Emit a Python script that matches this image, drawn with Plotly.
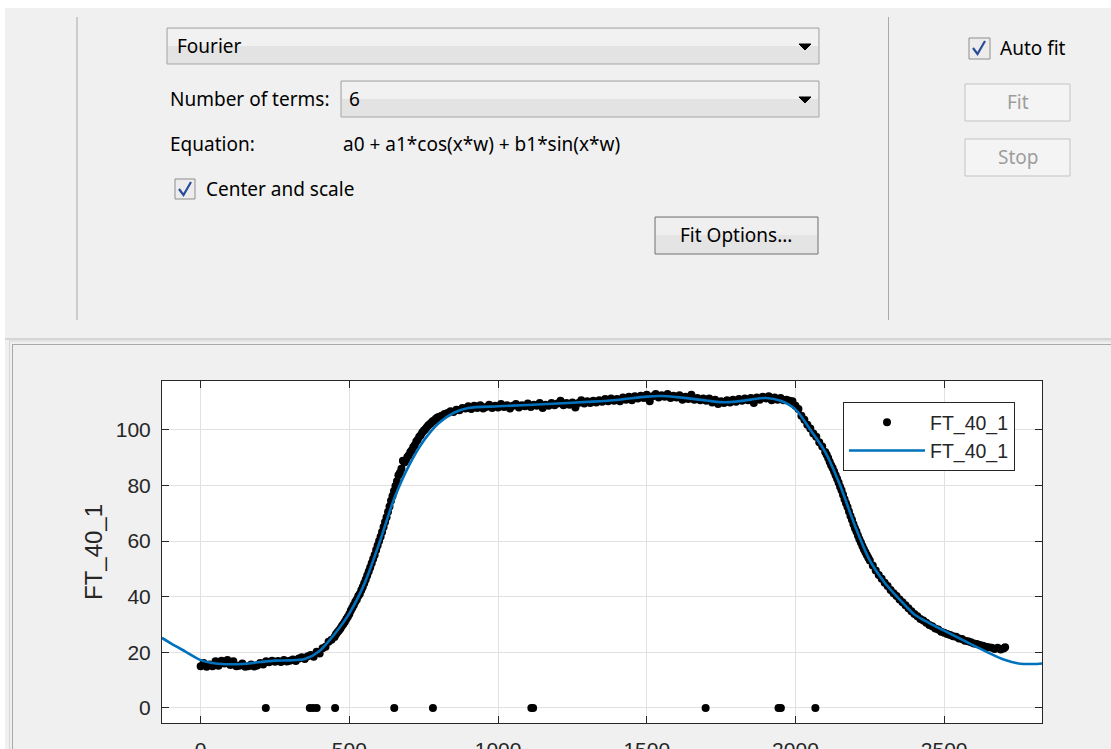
import plotly.graph_objects as go

# ---------------- data ----------------
start_x = [0, 10, 20, 30, 40, 50, 60, 70, 80, 90, 100, 110, 120, 130, 140, 150, 160, 170, 180, 190,
           200, 210, 220, 230, 240, 250, 260, 270, 280, 290, 300, 310, 320, 330, 340, 350, 360, 370,
           380, 390, 400, 410, 420, 430, 440]
start_y = [15.0, 16.2, 14.8, 15.6, 15.0, 16.8, 15.2, 17.0, 16.0, 17.2, 15.4, 16.8, 15.0, 15.2, 16.0,
           14.8, 15.0, 15.6, 14.9, 15.3, 16.2, 15.6, 16.8, 16.4, 17.0, 16.6, 16.9, 16.5, 17.2, 16.7,
           17.0, 17.4, 16.9, 17.8, 18.2, 17.6, 18.6, 19.0, 18.4, 20.2, 19.6, 21.5, 22.0, 23.8, 24.5]

rise_x = [450, 455, 460, 465, 470, 475, 480, 485, 490, 495, 500, 505, 510, 515, 520, 525, 530, 535,
          540, 545, 550, 555, 560, 565, 570, 575, 580, 585, 590, 595, 600, 605, 610, 615, 620, 625,
          630, 635, 640, 645, 650, 655, 660, 665, 670, 675, 680, 685, 690, 695, 700, 705, 710, 715,
          720, 725, 730, 735, 740, 745, 750, 755, 760, 765, 770, 775, 780, 785, 790, 795, 800, 810,
          820, 830, 840, 850, 860, 870, 880, 890]
rise_y = [25.5, 26.5, 27.2, 27.8, 28.6, 29.5, 30.2, 31.0, 32.0, 32.8,
          33.8, 35.0, 36.0, 37.0, 38.2, 39.0, 40.2, 41.0, 42.3, 43.5,
          44.8, 46.2, 47.6, 49.0, 50.5, 52.0, 53.5, 55.0, 56.8, 58.4,
          60.0, 61.5, 63.2, 65.0, 66.8, 68.5, 70.5, 72.4, 74.5, 76.2,
          78.0, 79.8, 81.5, 83.6, 84.5, 86.0, 88.8, 88.2, 89.0, 90.2,
          90.8, 92.0, 92.6, 93.8, 94.5, 95.8, 96.4, 97.5, 98.0, 99.0,
          99.6, 100.2, 100.8, 101.5, 102.0, 102.4, 103.0, 103.2, 103.8, 104.3,
          104.6, 105.0, 105.6, 106.0, 106.6, 106.4, 107.2, 107.0, 107.8, 107.6]

plateau_x = [900, 910, 920, 930, 940, 950, 960, 970, 980, 990,
             1000, 1010, 1020, 1030, 1040, 1050, 1060, 1070, 1080, 1090,
             1100, 1110, 1120, 1130, 1140, 1150, 1160, 1170, 1180, 1190,
             1200, 1210, 1220, 1230, 1240, 1250, 1260, 1270, 1280, 1290,
             1300, 1310, 1320, 1330, 1340, 1350, 1360, 1370, 1380, 1390,
             1400, 1410, 1420, 1430, 1440, 1450, 1460, 1470, 1480, 1490,
             1500, 1510, 1520, 1530, 1540, 1550, 1560, 1570, 1580, 1590,
             1600, 1610, 1620, 1630, 1640, 1650, 1660, 1670, 1680, 1690,
             1700, 1710, 1720, 1730, 1740, 1750, 1760, 1770, 1780, 1790,
             1800, 1810, 1820, 1830, 1840, 1850, 1860, 1870, 1880, 1890,
             1900, 1910, 1920, 1930, 1940, 1950, 1960, 1970, 1980]
plateau_y = [108.4, 107.4, 108.6, 107.8, 108.8, 107.6, 108.2, 109.0, 107.8, 108.6,
             108.0, 109.2, 108.2, 108.8, 107.6, 108.6, 109.2, 108.0, 108.8, 108.4,
             109.4, 108.2, 109.0, 108.6, 109.6, 107.8, 109.0, 108.6, 109.6, 108.8,
             109.4, 110.4, 108.8, 109.6, 109.0, 109.8, 108.0, 109.6, 110.6, 109.4,
             110.2, 109.6, 110.4, 109.8, 110.6, 110.0, 111.0, 110.2, 111.2, 110.4,
             111.0, 110.2, 111.6, 110.8, 111.8, 110.6, 112.0, 111.2, 112.2, 111.4,
             112.6, 110.2, 112.0, 112.8, 111.6, 112.4, 111.8, 112.8, 111.4, 112.2,
             111.6, 112.4, 110.8, 111.8, 111.0, 112.6, 110.8, 111.4, 110.6, 111.2,
             110.4, 111.2, 109.8, 110.8, 109.2, 110.2, 109.6, 110.6, 109.8, 110.8,
             110.0, 111.0, 110.4, 111.2, 110.6, 111.4, 109.6, 111.6, 110.8, 111.8,
             111.2, 112.0, 110.6, 111.6, 110.8, 111.4, 110.6, 110.8, 110.4]

fall_x = [1990, 2000, 2010, 2020, 2030, 2040, 2050, 2060, 2070, 2080, 2090, 2100,
          2105, 2110, 2115, 2120, 2125, 2130, 2135, 2140, 2145, 2150,
          2155, 2160, 2165, 2170, 2175, 2180, 2185, 2190, 2195, 2200,
          2205, 2210, 2215, 2220, 2225, 2230, 2235, 2240, 2245, 2250,
          2260, 2270, 2280, 2290, 2300, 2310, 2320, 2330, 2340, 2350,
          2360, 2370, 2380, 2390, 2400, 2410, 2420, 2430, 2440, 2450,
          2460, 2470, 2480, 2490, 2500, 2510, 2520, 2530, 2540, 2550,
          2560, 2570, 2580, 2590, 2600, 2610, 2620, 2630, 2640, 2650,
          2660, 2670, 2680, 2690, 2700, 2705]
fall_y = [110.2, 108.6, 107.4, 105.0, 103.6, 101.8, 100.4, 98.6, 97.5, 95.5, 94.0, 92.0,
          91.0, 89.8, 88.5, 87.2, 86.2, 85.0, 83.6, 82.4, 81.0, 79.5,
          78.2, 76.6, 75.0, 73.6, 72.2, 70.6, 69.0, 67.6, 66.0, 64.6,
          63.4, 62.0, 60.6, 59.5, 58.2, 57.0, 56.0, 55.0, 54.0, 53.0,
          51.2, 49.4, 47.8, 46.4, 45.0, 43.8, 42.4, 41.2, 40.2, 39.0,
          38.0, 36.9, 35.8, 34.8, 33.8, 33.0, 32.0, 31.4, 30.6, 29.8,
          29.4, 28.6, 28.2, 27.4, 27.0, 26.6, 26.2, 25.8, 25.6, 25.0,
          24.8, 24.2, 24.0, 23.6, 23.2, 23.0, 22.6, 22.4, 22.0, 21.8,
          21.6, 21.2, 21.6, 21.0, 21.4, 21.8]

zero_x = [219, 367, 378, 390, 452, 651, 781, 1112, 1118, 1698, 1943, 1951, 2067]
zero_y = [0, 0, 0, 0, 0, 0, 0, 0, 0, 0, 0, 0, 0]

fit_x = [-130, -100, -50, 0, 50, 100, 150, 200, 250, 300, 350, 400, 450, 500, 550, 600, 650, 700,
         750, 800, 850, 900, 1000, 1100, 1200, 1300, 1400, 1500, 1550, 1600, 1700, 1750, 1800,
         1850, 1900, 1950, 2000, 2050, 2100, 2150, 2200, 2250, 2300, 2350, 2400, 2450, 2500,
         2550, 2600, 2650, 2700, 2750, 2800, 2830]
fit_y = [25.2, 23.2, 20.2, 17.2, 16.0, 15.7, 15.9, 16.5, 17.0, 17.1, 17.6, 20.5, 26.5, 34.0, 44.5,
         59.0, 75.0, 87.0, 96.0, 102.3, 106.0, 107.8, 108.4, 108.9, 109.4, 110.0, 110.7, 111.9,
         112.1, 111.7, 110.5, 109.9, 110.1, 110.8, 111.4, 110.4, 107.3, 100.0, 92.0, 80.0, 65.5,
         53.0, 45.0, 39.0, 33.6, 30.5, 27.8, 25.1, 22.4, 19.8, 17.4, 16.0, 15.8, 16.0]

x_ticks = [0, 500, 1000, 1500, 2000, 2500]
y_ticks = [0, 20, 40, 60, 80, 100]
series_name = "FT_40_1"

# ---------------- layout geometry (pixels) ----------------
W_FIG, H_FIG = 1111, 749
L, R, T, B = 162, 1042, 381, 723
PW, PH = R - L, B - T


def px(x):
    return (x - L) / PW


def py(y):
    return (B - y) / PH


data_x = start_x + rise_x + plateau_x + fall_x + zero_x
data_y = start_y + rise_y + plateau_y + fall_y + zero_y

fig = go.Figure()
fig.add_trace(go.Scatter(
    x=data_x, y=data_y, mode="markers", name=series_name,
    marker=dict(color="black", size=8, line=dict(width=0)),
))
fig.add_trace(go.Scatter(
    x=fit_x, y=fit_y, mode="lines", name=series_name,
    line=dict(color="#0072BD", width=2.6, shape="spline", smoothing=0.8),
))

axis_font = dict(family="Liberation Sans, Arial, sans-serif", size=21, color="#262626")

fig.update_xaxes(
    range=[-130, 2829], tickvals=x_ticks, ticks="inside", ticklen=7, tickcolor="#262626",
    showline=True, linecolor="#262626", linewidth=1, mirror="ticks",
    showgrid=True, gridcolor="#e1e1e1", gridwidth=1, zeroline=False,
    tickfont=axis_font, automargin=False, ticklabelstandoff=8,
)
fig.update_yaxes(
    range=[-5.4, 117.5], tickvals=y_ticks, ticks="inside", ticklen=7, tickcolor="#262626",
    showline=True, linecolor="#262626", linewidth=1, mirror="ticks",
    showgrid=True, gridcolor="#e1e1e1", gridwidth=1, zeroline=False,
    tickfont=axis_font, automargin=False, ticklabelstandoff=6,
)

shapes = []
annos = []
GUI_FONT = "Noto Sans, Open Sans, sans-serif"


def rect(x0, y0, x1, y1, fill, line=None, lw=1):
    shapes.append(dict(
        type="rect", xref="paper", yref="paper",
        x0=px(x0), x1=px(x1), y0=py(y1), y1=py(y0),
        fillcolor=fill, line=dict(color=line if line else fill, width=lw if line else 0),
        layer="below"))


def hline(x0, x1, y, color, lw=1):
    shapes.append(dict(type="line", xref="paper", yref="paper",
                       x0=px(x0), x1=px(x1), y0=py(y), y1=py(y),
                       line=dict(color=color, width=lw)))


def vline(x, y0, y1, color, lw=1):
    shapes.append(dict(type="line", xref="paper", yref="paper",
                       x0=px(x), x1=px(x), y0=py(y0), y1=py(y1),
                       line=dict(color=color, width=lw)))


def path(points, fill=None, color="black", lw=1, closed=False):
    d = "M " + " L ".join(f"{px(a):.5f},{py(b):.5f}" for a, b in points)
    if closed:
        d += " Z"
    shapes.append(dict(type="path", xref="paper", yref="paper", path=d,
                       fillcolor=fill if fill else "rgba(0,0,0,0)",
                       line=dict(color=color, width=lw)))


def text(x, y, s, size=19, color="black", anchor="left", family=GUI_FONT):
    annos.append(dict(x=px(x), y=py(y), xref="paper", yref="paper", text=s,
                      showarrow=False, xanchor=anchor, yanchor="middle",
                      font=dict(family=family, size=size, color=color)))


# window edges
rect(0, 0, 1111, 8, "white")
rect(0, 0, 5, 749, "white")

# separators of the top panel
vline(77, 17, 320, "#a9a9a9")
vline(888.5, 17, 320, "#a9a9a9")
hline(5, 1111, 339, "#b9b9b9")
hline(9, 1111, 341, "#d7d7d7")
vline(9.5, 341, 749, "#d7d7d7")
hline(12, 1111, 344.5, "#a9a9a9")
vline(12.5, 344.5, 749, "#a9a9a9")

# dropdown 1
rect(167, 28, 819, 64, "#e3e3e3", "#a5a5a5")
rect(168, 29, 818, 46, "#f1f1f1")
path([(799, 44), (811, 44), (805, 50)], fill="black", color="black", lw=1, closed=True)
text(175, 46, "Fourier")

# dropdown 2
rect(341, 81, 819, 117, "#e3e3e3", "#a5a5a5")
rect(342, 82, 818, 99, "#f1f1f1")
path([(799, 97), (811, 97), (805, 103)], fill="black", color="black", lw=1, closed=True)
text(168, 99, "Number of terms:")
text(347, 99, "6")

text(168, 144, "Equation:")
text(341, 144, "a0 + a1*cos(x*w) + b1*sin(x*w)")

# checkbox center and scale
rect(175, 179, 195, 199, "#ececec", "#8e8e8e")
path([(179, 189), (183.5, 195), (191, 182)], color="#2b4a9a", lw=2.2)
text(204, 189, "Center and scale")

# Fit options button
rect(655, 217, 818, 254, "#e4e4e4", "#707070")
rect(656, 218, 817, 235, "#efefef")
text(736, 235, "Fit Options...", anchor="center")

# Auto fit
rect(969, 38, 990, 59, "#ececec", "#8e8e8e")
path([(973, 48), (977.5, 54), (985, 41)], color="#2b4a9a", lw=2.2)
text(998, 48, "Auto fit")

# disabled buttons
rect(965, 84, 1070, 121, "#f4f4f4", "#c3c3c3")
text(1017.5, 102, "Fit", color="#9d9d9d", anchor="center")
rect(965, 139, 1070, 176, "#f4f4f4", "#c3c3c3")
text(1017.5, 157, "Stop", color="#9d9d9d", anchor="center")

# y axis label
annos.append(dict(x=px(93), y=0.5, xref="paper", yref="paper", text=series_name,
                  showarrow=False, textangle=-90, xanchor="center", yanchor="middle",
                  font=dict(family="Liberation Sans, Arial, sans-serif", size=24, color="#262626")))

fig.update_layout(
    width=W_FIG, height=H_FIG, autosize=False,
    margin=dict(l=L, r=W_FIG - R, t=T, b=H_FIG - B, pad=0),
    paper_bgcolor="#f0f0f0", plot_bgcolor="white",
    shapes=shapes, annotations=annos,
    showlegend=True,
    legend=dict(x=px(843), y=py(402), xanchor="left", yanchor="top",
                bgcolor="white", bordercolor="#262626", borderwidth=1,
                font=dict(family="Liberation Sans, Arial, sans-serif", size=19.5, color="#262626"),
                itemwidth=76, tracegroupgap=0),
)

fig.write_html("out.html", config={"displayModeBar": False})
